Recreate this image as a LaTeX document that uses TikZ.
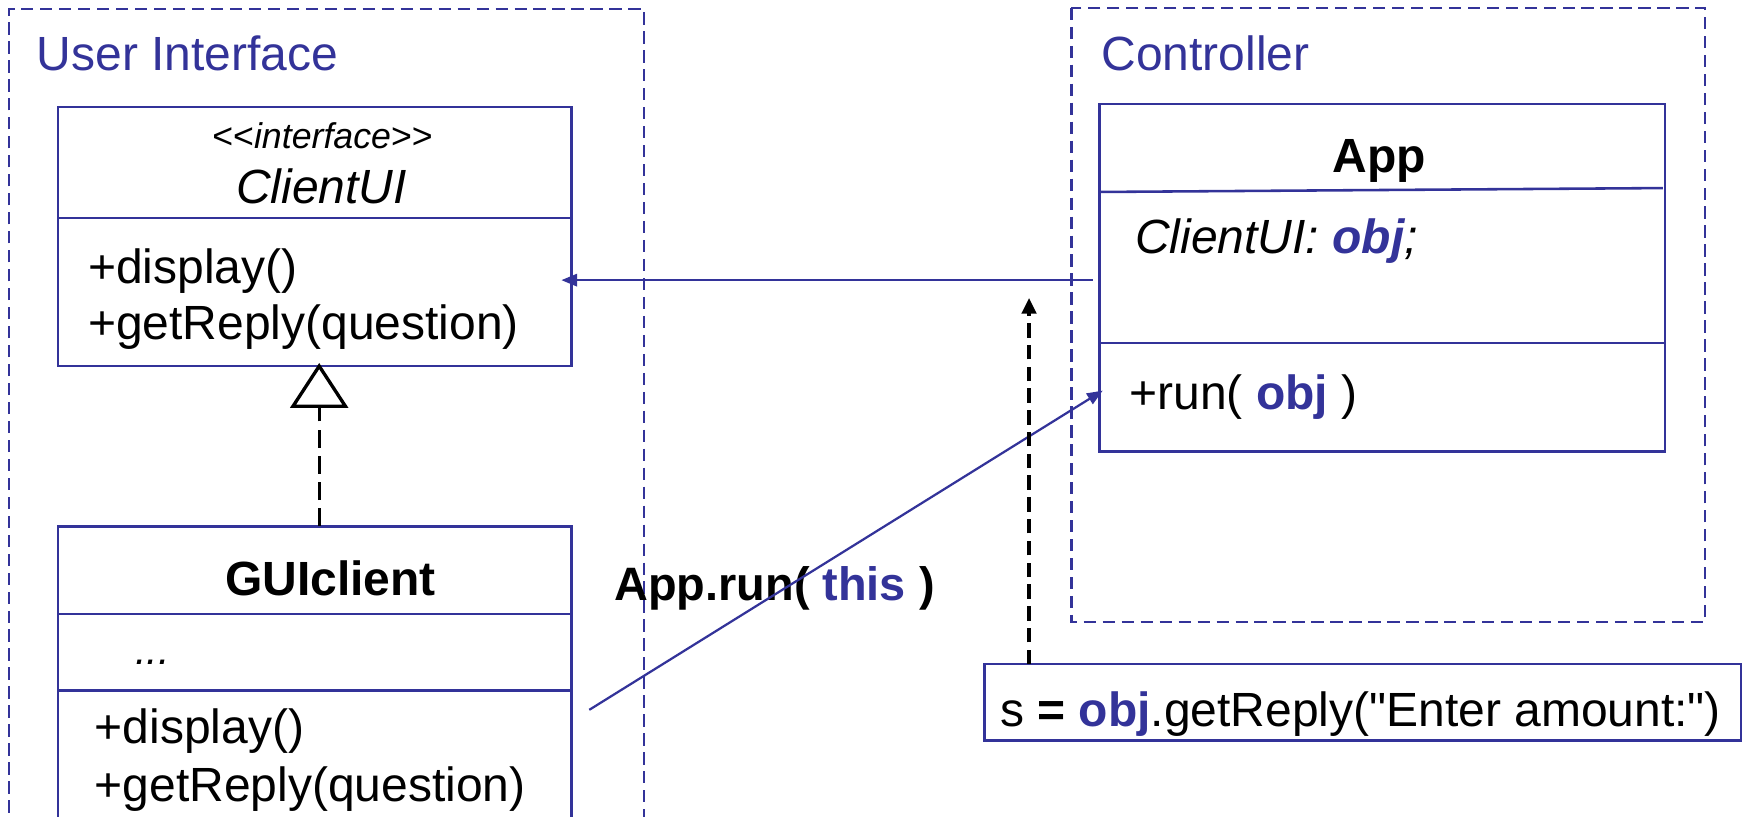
\documentclass[tikz,border=0pt]{standalone}
\usepackage{fontspec}
\setmainfont{Liberation Sans}[Ligatures=TeXOff]
\usetikzlibrary{arrows.meta,calc}
\definecolor{umlblue}{RGB}{51,51,153}
\begin{document}
\begin{tikzpicture}[x=1pt,y=-1pt,
  every node/.style={inner sep=0pt,outer sep=0pt},
  frame/.style={draw=umlblue,line width=2pt,dash pattern=on 11pt off 6pt},
  classbox/.style={draw=umlblue,line width=2.3pt,fill=white,anchor=north west},
  divider/.style={draw=umlblue,line width=2.3pt},
  txt/.style={font=\fontsize{43}{49}\selectfont,anchor=base west},
  ctxt/.style={font=\fontsize{43}{49}\selectfont,anchor=base},
  stereo/.style={font=\fontsize{32}{38}\selectfont\itshape,anchor=base},
  assoc/.style={draw=umlblue,line width=2pt,-{Triangle[length=14pt,width=11pt]}},
  depend/.style={draw=black,line width=2.8pt,dash pattern=on 13pt off 6.5pt,
                 -{Triangle[length=14pt,width=13pt]}},
  realize/.style={draw=black,line width=3pt,dash pattern=on 16pt off 7.5pt},
  hollowtri/.style={draw=black,line width=3pt,fill=white,line join=miter}
]
\clip (0,0) rectangle (1568,732);
\useasboundingbox (0,0) rectangle (1568,732);

% package frames
\draw[frame] (8,745) -- (8,8) -- (577,8) -- (577,745);
\draw[frame] (960,7) rectangle (1528,557);
\node[txt,text=umlblue] (uilabel) at (33,63) {User Interface};
\node[txt,text=umlblue] (ctrllabel) at (987,63) {Controller};

% interface ClientUI
\node[classbox,minimum width=460pt,minimum height=232pt] (clientui) at (52,96) {};
\draw[divider] ($(clientui.north west)+(0,99.5)$) -- ($(clientui.north east)+(0,99.5)$);
\node[stereo] (stereo) at (289,133) {{\upshape<{}<}interface{\upshape>{}>}};
\node[ctxt,font=\fontsize{43}{49}\selectfont\itshape] (ciname) at (288,182) {ClientUI};
\node[txt] (cidisp) at (79,254) {+display()};
\node[txt] (cireply) at (79,304) {+getReply(question)};

% class GUIclient
\node[classbox,minimum width=460pt,minimum height=280pt] (gui) at (52,471.5) {};
\draw[divider] ($(gui.north west)+(0,78.5)$) -- ($(gui.north east)+(0,78.5)$);
\draw[divider] ($(gui.north west)+(0,147)$) -- ($(gui.north east)+(0,147)$);
\node[ctxt,font=\fontsize{43}{49}\selectfont\bfseries] (guiname) at (296,534) {GUIclient};
\node[txt,font=\fontsize{37}{43}\selectfont\itshape] (guidots) at (121,595) {...};
\node[txt] (guidisp) at (85,666) {+display()};
\node[txt] (guireply) at (85,718) {+getReply(question)};

% realization: GUIclient implements ClientUI
\coordinate (apex) at ($(clientui.south)+(4,0)$);
\coordinate (tribase) at ($(apex)+(0,36)$);
\draw[realize] ($(gui.north)+(4,0)$) -- (tribase);
\draw[hollowtri] (apex) -- ($(tribase)+(-23.5,0)$) -- ($(tribase)+(23.5,0)$) -- cycle;

% class App
\node[classbox,minimum width=507pt,minimum height=311.5pt] (app) at (985,93) {};
\draw[divider] ($(app.north west)+(0,79)$) -- ($(app.north east)+(-2,75.5)$);
\draw[divider] ($(app.north west)+(0,214.5)$) -- ($(app.north east)+(0,214.5)$);
\node[ctxt,font=\fontsize{43}{49}\selectfont\bfseries] (appname) at (1236,155) {App};
\node[txt,font=\fontsize{43}{49}\selectfont\itshape] (appattr) at (1017,227)
  {ClientUI: \textcolor{umlblue}{\bfseries obj};};
\node[txt] (apprun) at (1012,367) {+run( \textcolor{umlblue}{\bfseries obj} )};

% call box
\node[draw=umlblue,line width=2.3pt,anchor=north west,minimum width=678pt,minimum height=68.5pt]
  (callbox) at (882,595) {};
\node[txt] (calltext) at (896,651)
  {s {\bfseries =} \textcolor{umlblue}{\bfseries obj}.getReply("Enter amount:")};

% call label
\node[txt,font=\fontsize{42}{48}\selectfont\bfseries] (runlabel) at (550.5,537.6)
  {App.run( \textcolor{umlblue}{this} )};

% connectors
\coordinate (appref) at ($(app.north west)+(-6,158)$);
\draw[assoc,shorten >=-9pt] (appref) -- (clientui.east |- appref);
\coordinate (callstart) at (528,636);
\coordinate (runpt) at ($(app.north west)+(3,257)$);
\draw[assoc] (callstart) -- (runpt);
\coordinate (depend top) at (922,267);
\draw[depend] (callbox.north -| depend top) -- (depend top);
\end{tikzpicture}
\end{document}
